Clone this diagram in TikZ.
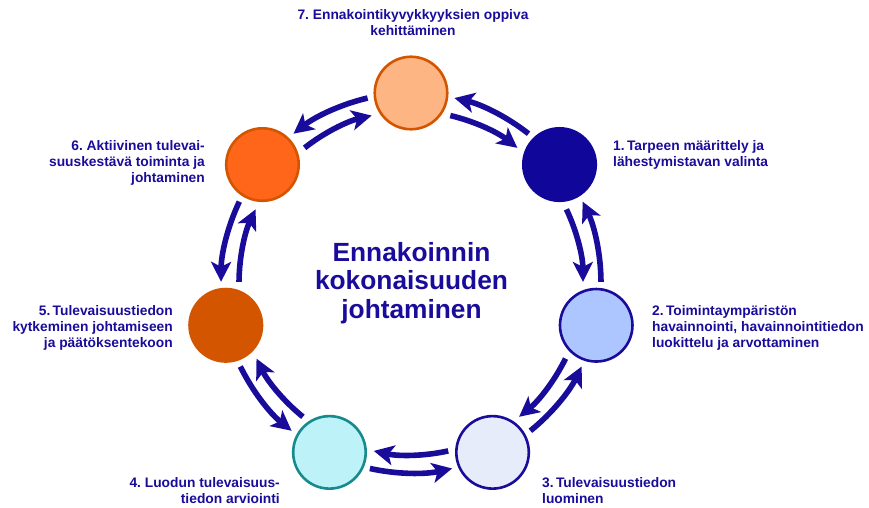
\documentclass[tikz,border=0pt]{standalone}
\usepackage{fontspec}
\setmainfont{Liberation Sans}
\usetikzlibrary{arrows.meta,calc}
\frenchspacing

\definecolor{navy}{HTML}{1A0C9A}
\definecolor{deepnavy}{HTML}{10079A}
\definecolor{rust}{HTML}{D35500}
\definecolor{peach}{HTML}{FDB683}
\definecolor{tangerine}{HTML}{FF661A}
\definecolor{teal}{HTML}{178A8E}
\definecolor{aqua}{HTML}{BDF3F8}
\definecolor{mist}{HTML}{E6ECFA}
\definecolor{periwinkle}{HTML}{ADC6FF}

\begin{document}
\begin{tikzpicture}[x=1pt,y=1pt,
  stage/.style={circle, minimum size=72.5pt, inner sep=0pt, line width=2.6pt},
  flow/.style={draw=navy, line width=5.6pt,
    -{Stealth[length=20pt,width=20pt,inset=5pt]}},
  lbl/.style={text=navy, inner sep=0pt,
    font=\fontsize{13.8}{16}\selectfont\bfseries},
  headline/.style={text=navy, inner sep=0pt,
    font=\fontsize{26.3}{28.3}\selectfont\bfseries, align=center},
]
\useasboundingbox (0,0) rectangle (869,507);
\coordinate (ring) at (411,224);

% the seven stages, clockwise from the top
\node[stage, fill=peach,      draw=rust]     (s7) at ($(ring)+(90:190pt)$) {};
\node[stage, fill=deepnavy,   draw=deepnavy] (s1) at ($(ring)+(38.571:190pt)$) {};
\node[stage, fill=periwinkle, draw=navy]     (s2) at ($(ring)+(-12.857:190pt)$) {};
\node[stage, fill=mist,       draw=navy]     (s3) at ($(ring)+(-64.286:188pt)$) {};
\node[stage, fill=aqua,       draw=teal]     (s4) at ($(ring)+(-115.714:188pt)$) {};
\node[stage, fill=rust,       draw=rust]     (s5) at ($(ring)+(-167.143:190pt)$) {};
\node[stage, fill=tangerine,  draw=rust]     (s6) at ($(ring)+(141.429:190pt)$) {};

% paired arrows between neighbouring stages:
% inner arc runs clockwise, outer arc runs counter-clockwise
\foreach \j in {0,...,6} {
  \pgfmathsetmacro\m{64.2857-51.4286*\j}
  \coordinate (in\j)  at ($(ring)+(\m+12.5:172pt)$);
  \coordinate (out\j) at ($(ring)+(\m-12.5:190pt)$);
  \draw[flow] (in\j)  arc[start angle=\m+12.5, delta angle=-25, radius=172pt];
  \draw[flow] (out\j) arc[start angle=\m-12.5, delta angle=25,  radius=190pt];
}

% stage labels
\node[lbl, align=center] (t7) at (413,484)
  {7. Ennakointikyvykkyyksien oppiva\\kehittäminen};
\node[lbl, align=left, anchor=west] (t1) at (613,352.5)
  {1.\,Tarpeen määrittely ja\\lähestymistavan valinta};
\node[lbl, align=left, anchor=west] (t2) at (652,179)
  {2.\,Toimintaympäristön\\havainnointi, havainnointitiedon\\luokittelu ja arvottaminen};
\node[lbl, align=left, anchor=west] (t3) at (542,16.5)
  {3.\,Tulevaisuustiedon\\luominen};
\node[lbl, align=right, anchor=east] (t4) at (280,16.5)
  {4. Luodun tulevaisuus-\\tiedon arviointi};
\node[lbl, align=right, anchor=east] (t5) at (173,179)
  {5.\,Tulevaisuustiedon\\kytkeminen johtamiseen\\ja päätöksentekoon};
\node[lbl, align=right, anchor=east] (t6) at (205,344)
  {6. Aktiivinen tulevai-\\suuskestävä toiminta ja\\johtaminen};

% central title
\node[headline] (title) at (411.5,224)
  {Ennakoinnin\\kokonaisuuden\\johtaminen};
\end{tikzpicture}
\end{document}
